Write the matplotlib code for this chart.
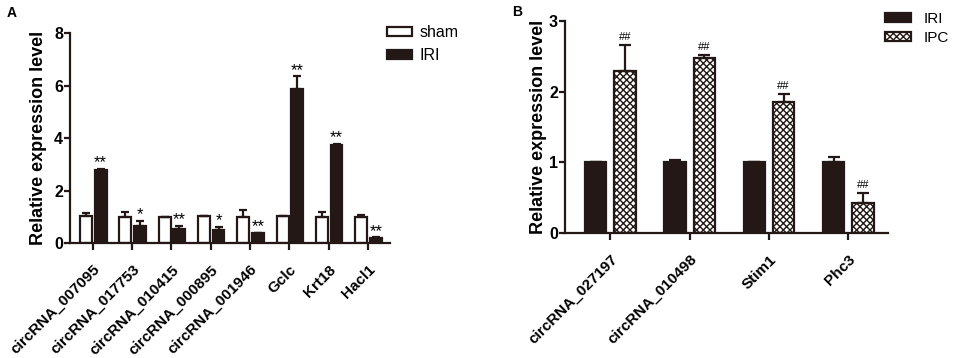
import numpy as np
import matplotlib
matplotlib.use("Agg")
import matplotlib.pyplot as plt

plt.rcParams['font.family'] = ['Liberation Sans', 'DejaVu Sans']
plt.rcParams['font.weight'] = 'bold'
plt.rcParams['hatch.linewidth'] = 1.0

# panel A data
genes_a = ["circRNA_007095", "circRNA_017753", "circRNA_010415", "circRNA_000895",
           "circRNA_001946", "Gclc", "Krt18", "Hacl1"]
sham = [1.02, 1.0, 1.0, 1.02, 1.0, 1.02, 1.0, 1.0]
sham_err = [0.12, 0.2, 0.0, 0.02, 0.24, 0.02, 0.2, 0.08]
iri_a = [2.8, 0.66, 0.53, 0.5, 0.38, 5.88, 3.73, 0.2]
iri_a_err = [0.03, 0.17, 0.13, 0.1, 0.02, 0.47, 0.03, 0.01]
marks_a = ["**", "*", "**", "*", "**", "**", "**", "**"]

# panel B data
genes_b = ["circRNA_027197", "circRNA_010498", "Stim1", "Phc3"]
iri_b = [1.0, 1.01, 1.0, 1.0]
iri_b_err = [0.01, 0.02, 0.0, 0.07]
ipc = [2.3, 2.48, 1.85, 0.43]
ipc_err = [0.36, 0.04, 0.12, 0.14]
marks_b = ["##", "##", "##", "##"]

dark = "#231815"

fig = plt.figure(figsize=(9.57, 3.58), dpi=100)
axA = fig.add_axes([0.0731, 0.3212, 0.3344, 0.5866])
axB = fig.add_axes([0.5904, 0.3492, 0.3375, 0.592])

def style(ax):
    for s in ['top', 'right']:
        ax.spines[s].set_visible(False)
    for s in ['left', 'bottom']:
        ax.spines[s].set_linewidth(1.6)
        ax.spines[s].set_color(dark)
    ax.tick_params(width=1.6, length=5, color=dark)
    ax.tick_params(axis='y', labelsize=11.5, length=4, pad=1)
    ax.tick_params(axis='x', pad=9)

# Panel A
x = np.arange(len(genes_a))
w = 0.3
ek = dict(elinewidth=1.6, capthick=1.6, ecolor=dark)
axA.bar(x - 0.17, sham, w, color='white', edgecolor=dark, linewidth=1.6,
        yerr=[np.zeros(len(x)), sham_err], capsize=3, error_kw=ek, label='sham')
axA.bar(x + 0.2, iri_a, w, color=dark, edgecolor=dark, linewidth=1.6,
        yerr=[np.zeros(len(x)), iri_a_err], capsize=3, error_kw=ek, label='IRI')
for i in range(len(x)):
    axA.text(x[i] + 0.2, iri_a[i] + iri_a_err[i] - 0.05, marks_a[i],
             ha='center', va='bottom', fontsize=12, fontweight='normal')
axA.set_xlim(-0.58, 7.56)
axA.set_ylim(0, 8)
axA.set_yticks([0, 2, 4, 6, 8])
axA.set_xticks(x)
axA.set_xticklabels(genes_a, rotation=45, ha='right', rotation_mode='anchor', fontsize=11)
axA.set_ylabel("Relative expression level", fontsize=13, fontweight='bold')
axA.yaxis.set_label_coords(-0.072, 0.5)
style(axA)
axA.legend(loc='upper left', bbox_to_anchor=(387 / 957, 1 - 25 / 358),
           bbox_transform=fig.transFigure, frameon=False, borderpad=0, borderaxespad=0,
           handlelength=1.56, handleheight=0.5, handletextpad=0.5, labelspacing=0.5,
           prop={'weight': 'normal', 'size': 11.5})
fig.text(7 / 957, 1 - 17 / 358, "A", fontsize=10, fontweight='bold')

# Panel B
xb = np.arange(len(genes_b))
wb = 0.27
axB.bar(xb - 0.185, iri_b, wb, color=dark, edgecolor=dark, linewidth=1.6,
        yerr=[np.zeros(len(xb)), iri_b_err], capsize=4, error_kw=ek, label='IRI')
axB.bar(xb + 0.185, ipc, wb, color='white', edgecolor=dark, linewidth=1.6, hatch='xxxxx',
        yerr=[np.zeros(len(xb)), ipc_err], capsize=4, error_kw=ek, label='IPC')
for i in range(len(xb)):
    axB.text(xb[i] + 0.185, ipc[i] + ipc_err[i] + 0.04, marks_b[i],
             ha='center', va='bottom', fontsize=8, fontweight='normal')
axB.set_xlim(-0.57, 3.5)
axB.set_ylim(0, 3)
axB.set_yticks([0, 1, 2, 3])
axB.set_xticks(xb)
axB.set_xticklabels(genes_b, rotation=45, ha='right', rotation_mode='anchor', fontsize=11)
axB.set_ylabel("Relative expression level", fontsize=13, fontweight='bold')
axB.yaxis.set_label_coords(-0.055, 0.5)
style(axB)
axB.legend(loc='upper left', bbox_to_anchor=(885 / 957, 1 - 12 / 358),
           bbox_transform=fig.transFigure, frameon=False, borderpad=0, borderaxespad=0,
           handlelength=1.7, handleheight=0.52, handletextpad=0.8, labelspacing=0.3,
           prop={'weight': 'normal', 'size': 11})
fig.text(512 / 957, 1 - 16 / 358, "B", fontsize=10, fontweight='bold')

fig.savefig("out.png", dpi=100)
